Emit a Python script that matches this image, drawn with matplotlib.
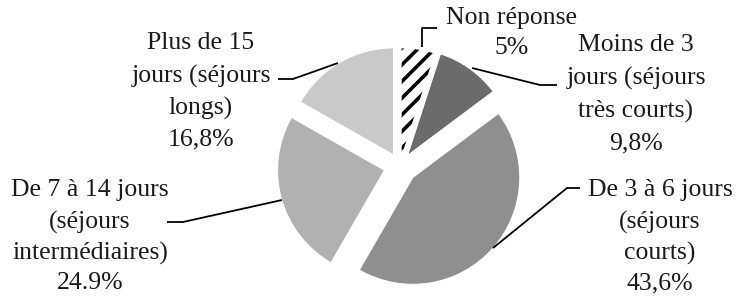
import matplotlib
matplotlib.use("Agg")
import matplotlib.pyplot as plt

# Data
categories = ["Non réponse", "Moins de 3 jours (séjours très courts)",
              "De 3 à 6 jours (séjours courts)", "De 7 à 14 jours (séjours intermédiaires)",
              "Plus de 15 jours (séjours longs)"]
values = [5.0, 9.8, 43.6, 24.9, 16.8]
label_lines = [
    ["Non réponse", "5%"],
    ["Moins de 3", "jours (séjours", "très courts)", "9,8%"],
    ["De 3 à 6 jours", "(séjours", "courts)", "43,6%"],
    ["De 7 à 14 jours", "(séjours", "intermédiaires)", "24.9%"],
    ["Plus de 15", "jours (séjours", "longs)", "16,8%"],
]

# Styles
colors = ["white", "#6b6b6b", "#8f8f8f", "#b1b1b1", "#c9c9c9"]
R = 107
explode_frac = [0.10, 0.12, 0.16, 0.15, 0.12]

W, H = 737, 298
plt.rcParams["hatch.linewidth"] = 2.6
fig = plt.figure(figsize=(W / 100, H / 100), dpi=100)
ax = fig.add_axes([0, 0, 1, 1])

def Y(y):
    return H - y

wedges, _ = ax.pie(values, colors=colors, explode=[e * R for e in explode_frac],
                   startangle=90, counterclock=False, center=(400, Y(166)), radius=R,
                   wedgeprops=dict(edgecolor="white", linewidth=0.8), frame=True)
ax.set_xlim(0, W)
ax.set_ylim(0, H)
ax.axis("off")
wedges[0].set_hatch("//")
wedges[0].set_edgecolor("black")
wedges[0].set_linewidth(0)

txt = dict(family="Liberation Serif", fontsize=18.5, color="#1a1a1a",
           ha="center", va="center")

# Label blocks: center x, list of line y positions (pixels)
blocks = [
    (512, [18, 48]),
    (636, [45, 78, 111, 143]),
    (660, [190, 222, 253, 283]),
    (90, [190, 222, 253, 283]),
    (201, [43, 76, 108, 139]),
]
for lines, (cx, ys) in zip(label_lines, blocks):
    for s, y in zip(lines, ys):
        ax.text(cx, Y(y), s, **txt)

# Leader lines (pixels)
leaders = [
    [(422, 47), (422, 28), (437, 28)],
    [(472, 68), (540, 85), (557, 85)],
    [(493, 248), (567, 188), (580, 188)],
    [(282, 200), (183, 222), (167, 222)],
    [(338, 63), (293, 79), (278, 79)],
]
for pts in leaders:
    ax.plot([p[0] for p in pts], [Y(p[1]) for p in pts], color="black", lw=1.3,
            solid_capstyle="butt")

fig.savefig("out.png", dpi=100)
